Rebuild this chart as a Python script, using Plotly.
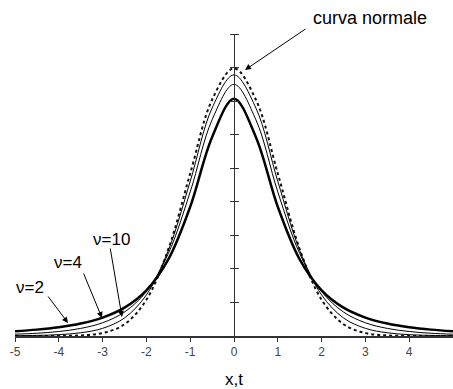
import plotly.graph_objects as go

x_vals = [-5, -4.5, -4, -3.5, -3, -2.5, -2, -1.5, -1, -0.5, 0, 0.5, 1, 1.5, 2, 2.5, 3, 3.5, 4, 4.5, 5]
normal = [0.0000, 0.0000, 0.0001, 0.0009, 0.0044, 0.0175, 0.0540, 0.1295, 0.2420, 0.3521, 0.3989,
          0.3521, 0.2420, 0.1295, 0.0540, 0.0175, 0.0044, 0.0009, 0.0001, 0.0000, 0.0000]
t2 = [0.0071, 0.0095, 0.0131, 0.0186, 0.0274, 0.0422, 0.0680, 0.1141, 0.1925, 0.2963, 0.3536,
      0.2963, 0.1925, 0.1141, 0.0680, 0.0422, 0.0274, 0.0186, 0.0131, 0.0095, 0.0071]
t4 = [0.0027, 0.0041, 0.0067, 0.0113, 0.0197, 0.0357, 0.0663, 0.1229, 0.2147, 0.3222, 0.3750,
      0.3222, 0.2147, 0.1229, 0.0663, 0.0357, 0.0197, 0.0113, 0.0067, 0.0041, 0.0027]
t10 = [0.0004, 0.0009, 0.0020, 0.0048, 0.0114, 0.0269, 0.0612, 0.1275, 0.2304, 0.3397, 0.3891,
       0.3397, 0.2304, 0.1275, 0.0612, 0.0269, 0.0114, 0.0048, 0.0020, 0.0009, 0.0004]
x_ticks = [-5, -4, -3, -2, -1, 0, 1, 2, 3, 4, 5]
x_tick_labels = ["-5", "-4", "-3", "-2", "-1", "0", "1", "2", "3", "4", "5"]
curve_labels = ["ν=2", "ν=4", "ν=10"]

FONT = "Arial, Liberation Sans, sans-serif"

fig = go.Figure()
fig.add_trace(go.Scatter(x=x_vals, y=normal, mode="lines", line=dict(color="#111", width=2, dash="3px,3px", shape="spline"), cliponaxis=False))
fig.add_trace(go.Scatter(x=x_vals, y=t10, mode="lines", line=dict(color="black", width=1, shape="spline"), cliponaxis=False))
fig.add_trace(go.Scatter(x=x_vals, y=t4, mode="lines", line=dict(color="black", width=1, shape="spline"), cliponaxis=False))
fig.add_trace(go.Scatter(x=x_vals, y=t2, mode="lines", line=dict(color="black", width=2.5, shape="spline"), cliponaxis=False))
# invisible trace to activate the second y axis (right-side tick marks)
fig.add_trace(go.Scatter(x=[0], y=[0], yaxis="y2", mode="lines", line=dict(width=0), hoverinfo="skip"))

annotations = [
    dict(x=1.76, xref="x", y=1.053, yref="paper", text="curva normale", showarrow=False,
         xanchor="left", yanchor="middle", font=dict(size=18, color="black", family=FONT)),
    dict(x=0.251, y=0.3964, ax=62, ay=-42, text="", showarrow=True, arrowhead=2, arrowsize=1.2, arrowwidth=1, arrowcolor="black"),
    dict(x=-4.658, y=0.0730, text=curve_labels[0], showarrow=False, font=dict(size=17, color="black", family=FONT)),
    dict(x=-3.801, y=0.1088, text=curve_labels[1], showarrow=False, font=dict(size=17, color="black", family=FONT)),
    dict(x=-2.797, y=0.1445, text=curve_labels[2], showarrow=False, font=dict(size=17, color="black", family=FONT)),
    dict(x=-3.790, y=0.0194, ax=-21, ay=-28, text="", showarrow=True, arrowhead=2, arrowsize=1.2, arrowwidth=1, arrowcolor="black"),
    dict(x=-3.014, y=0.0268, ax=-19, ay=-46, text="", showarrow=True, arrowhead=2, arrowsize=1.2, arrowwidth=1, arrowcolor="black"),
    dict(x=-2.557, y=0.0283, ax=-12, ay=-70, text="", showarrow=True, arrowhead=2, arrowsize=1.2, arrowwidth=1, arrowcolor="black"),
]

fig.update_layout(
    width=453, height=389,
    margin=dict(l=15, r=0, t=34, b=53),
    paper_bgcolor="white", plot_bgcolor="white",
    showlegend=False,
    font=dict(family=FONT, color="black"),
    xaxis=dict(range=[-5, 5], tickvals=x_ticks, ticktext=x_tick_labels, showgrid=False, zeroline=False,
               showline=True, linecolor="#333", linewidth=1.5, ticks="outside", ticklen=4, tickcolor="#333",
               tickfont=dict(size=12, color="#444"),
               title=dict(text="x,t", font=dict(size=17, color="black"), standoff=15)),
    yaxis=dict(range=[0, 0.45], dtick=0.05, showgrid=False, zeroline=False, showticklabels=False,
               showline=True, linecolor="#333", linewidth=1, ticks="outside", ticklen=4, tickcolor="#333",
               anchor="free", position=0.5),
    yaxis2=dict(range=[0, 0.45], dtick=0.05, showgrid=False, zeroline=False, showticklabels=False,
                showline=False, ticks="outside", ticklen=4, tickcolor="#333",
                overlaying="y", side="right", anchor="free", position=0.5),
    annotations=annotations,
)

fig.write_html("out.html")
